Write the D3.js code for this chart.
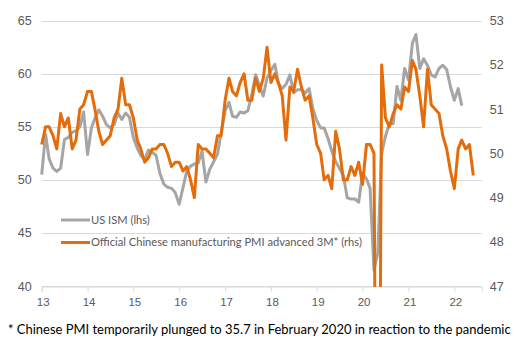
<!DOCTYPE html>
<meta charset="utf-8">
<style>
body { margin: 0; background: #fff; }
svg { display: block; font-family: Lato, "Open Sans", sans-serif; }
</style>
<svg id="chart" width="516" height="345"></svg>
<script src="https://cdn.jsdelivr.net/npm/d3@7/dist/d3.min.js"></script>
<script>
// US ISM, monthly from Jan 2013 (lhs)
var usIsm = [
  50.5, 54.3, 52.0, 51.1, 50.8, 51.1, 53.8, 54.0, 54.5, 54.6, 55.0, 56.4,
  52.4, 54.9, 55.8, 56.6, 56.0, 55.2, 54.9, 55.2, 56.3, 55.7, 56.3, 55.9,
  54.0, 53.0, 52.3, 51.9, 52.8, 52.6, 52.3, 50.6, 49.6, 49.3, 49.2, 48.8,
  47.7, 49.3, 50.8, 51.3, 51.5, 51.6, 52.7, 49.8, 51.0, 51.7, 52.4, 54.5,
  56.5, 57.3, 56.0, 55.9, 56.4, 56.3, 56.5, 58.0, 59.9, 58.9, 57.9, 59.6,
  60.3, 60.9, 59.1, 58.6, 59.0, 59.9, 58.2, 58.5, 58.5, 58.2, 58.6, 56.7,
  55.6, 54.9, 54.9, 53.9, 52.7, 51.7, 51.1, 50.4, 48.3, 48.2, 48.2, 47.9,
  50.6, 50.1, 49.2, 41.5, 43.1, 52.5, 54.1, 55.3, 55.3, 58.8, 57.5, 60.5,
  59.4, 62.9, 63.7, 60.5, 61.4, 60.8, 59.9, 59.7, 60.5, 60.8, 60.4, 58.8,
  57.5, 58.6, 57.0
];
var usIsmStart = new Date(2013, 0, 1);

// official Chinese manufacturing PMI, monthly from Oct 2012 (rhs), plotted 3 months ahead
var chinaPmi = [
  50.2, 50.6, 50.6,
  50.4, 50.1, 50.9, 50.6, 50.8, 50.1, 50.3, 51.0, 51.1, 51.4, 51.4, 51.0,
  50.5, 50.2, 50.3, 50.4, 50.8, 51.0, 51.7, 51.1, 51.1, 50.8, 50.3, 50.1,
  49.8, 49.9, 50.1, 50.1, 50.2, 50.2, 50.0, 49.7, 49.8, 49.8, 49.6, 49.7,
  49.4, 49.0, 50.2, 50.1, 50.1, 50.0, 49.9, 50.4, 50.4, 51.2, 51.7, 51.4,
  51.3, 51.6, 51.8, 51.2, 51.2, 51.7, 51.4, 51.7, 52.4, 51.6, 51.8, 51.6,
  51.3, 50.3, 51.5, 51.4, 51.9, 51.5, 51.2, 51.3, 50.8, 50.2, 50.0, 49.4,
  49.5, 49.2, 50.5, 50.1, 49.4, 49.4, 49.7, 49.5, 49.8, 49.3, 50.2, 50.2,
  50.0, 35.7, 52.0, 50.8, 50.6, 50.9, 51.1, 51.0, 51.5, 51.4, 52.1, 51.9,
  51.3, 50.6, 51.9, 51.1, 51.0, 50.9, 50.4, 50.1, 49.6, 49.2, 50.1, 50.3,
  50.1, 50.2, 49.5
];
var chinaPmiStart = new Date(2012, 9, 1);
var advanceMonths = 3;

var leftTicks = [40, 45, 50, 55, 60, 65];
var rightTicks = [47, 48, 49, 50, 51, 52, 53];
var yearTicks = [2013, 2014, 2015, 2016, 2017, 2018, 2019, 2020, 2021, 2022];

var legendLabels = ["US ISM (lhs)", "Official Chinese manufacturing PMI advanced 3M* (rhs)"];
var footnote = "* Chinese PMI temporarily plunged to 35.7 in February 2020 in reaction to the pandemic";

var grey = "#a5a5a5", orange = "#e46c0a", textColor = "#595959";

var svg = d3.select("#chart");
svg.append("rect").attr("width", 516).attr("height", 345).attr("fill", "#fff");

var plotLeft = 41.7, plotRight = 481.7, plotTop = 20.7, plotBottom = 286;

var x = d3.scaleTime()
  .domain([new Date(2013, 0, 1), new Date(2022, 7, 7)])
  .range([plotLeft, plotRight]);
var yL = d3.scaleLinear().domain([40, 65]).range([plotBottom, plotTop]);
var yR = d3.scaleLinear().domain([47, 53]).range([plotBottom, plotTop]);

// gridlines
svg.append("g").selectAll("line")
  .data(leftTicks)
  .join("line")
  .attr("x1", plotLeft).attr("x2", plotRight)
  .attr("y1", function(d){ return Math.round(yL(d)) + 0.5; })
  .attr("y2", function(d){ return Math.round(yL(d)) + 0.5; })
  .attr("stroke", "#d9d9d9")
  .attr("stroke-width", 1);

// bottom axis
var xAxis = d3.axisBottom(x)
  .tickValues(yearTicks.map(function(y){ return new Date(y, 0, 1); }))
  .tickFormat(d3.timeFormat("%y"))
  .tickSize(5)
  .tickPadding(6);
var gx = svg.append("g")
  .attr("transform", "translate(0," + (Math.round(plotBottom) + 0.5) + ")")
  .call(xAxis);
gx.select(".domain").attr("stroke", "#d9d9d9");
gx.selectAll(".tick line").attr("stroke", "#d9d9d9");
gx.selectAll(".tick text")
  .attr("fill", textColor)
  .style("font-size", "11.5px")
  .attr("dx", 1);

// left axis labels
var gl = svg.append("g")
  .attr("transform", "translate(" + (plotLeft - 10) + ",0)")
  .call(d3.axisLeft(yL).tickValues(leftTicks).tickSize(0).tickPadding(0));
gl.select(".domain").remove();
gl.selectAll(".tick text").attr("fill", textColor).style("font-size", "12.5px");

// right axis labels
var gr = svg.append("g")
  .attr("transform", "translate(" + (plotRight + 8) + ",0)")
  .call(d3.axisRight(yR).tickValues(rightTicks).tickFormat(d3.format("d")).tickSize(0).tickPadding(0));
gr.select(".domain").remove();
gr.selectAll(".tick text").attr("fill", textColor).style("font-size", "12.5px");

// plot area clip (Chinese PMI plunge leaves the axis range)
svg.append("clipPath").attr("id", "plot-clip")
  .append("rect")
  .attr("x", plotLeft - 3).attr("y", 0)
  .attr("width", plotRight - plotLeft + 6).attr("height", plotBottom + 1);

var ismData = usIsm.map(function(v, i){
  return { date: d3.timeMonth.offset(usIsmStart, i), value: v };
});
var pmiData = chinaPmi.map(function(v, i){
  return { date: d3.timeMonth.offset(chinaPmiStart, i + advanceMonths), value: v };
});

var lines = svg.append("g").attr("clip-path", "url(#plot-clip)");

lines.append("path")
  .datum(ismData)
  .attr("fill", "none")
  .attr("stroke", grey)
  .attr("stroke-width", 3)
  .attr("stroke-linejoin", "round")
  .attr("d", d3.line().x(function(d){ return x(d.date); }).y(function(d){ return yL(d.value); }));

lines.append("path")
  .datum(pmiData)
  .attr("fill", "none")
  .attr("stroke", orange)
  .attr("stroke-width", 3)
  .attr("stroke-linejoin", "round")
  .attr("d", d3.line().x(function(d){ return x(d.date); }).y(function(d){ return yR(d.value); }));

// legend
var legend = svg.append("g");
var legendY = [220, 242.5];
[grey, orange].forEach(function(c, i){
  legend.append("line")
    .attr("x1", 61).attr("x2", 90)
    .attr("y1", legendY[i]).attr("y2", legendY[i])
    .attr("stroke", c).attr("stroke-width", 3);
  legend.append("text")
    .attr("x", 91).attr("y", legendY[i])
    .attr("dy", "0.35em")
    .attr("fill", textColor)
    .style("font-size", "11.5px")
    .text(legendLabels[i]);
});

// footnote, fitted to its width in the reference
var note = svg.append("text")
  .attr("x", 8).attr("y", 329)
  .attr("dy", "0.35em")
  .attr("fill", "#000")
  .style("font-size", "13px")
  .text(footnote);
var w = note.node().getComputedTextLength();
note.style("font-size", (13 * 503 / w).toFixed(2) + "px");

var lg = legend.selectAll("text").filter(function(d, i){ return i === 1; });
var lw = lg.node().getComputedTextLength();
legend.selectAll("text").style("font-size", (11.5 * 271 / lw).toFixed(2) + "px");
</script>
